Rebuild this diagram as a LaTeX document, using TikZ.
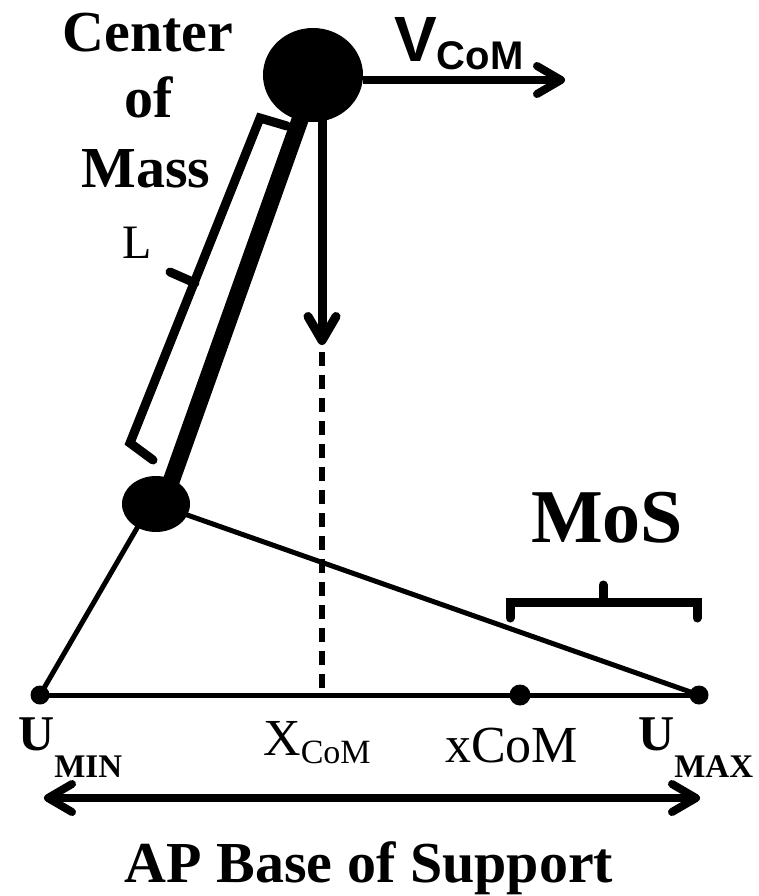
\documentclass[tikz,border=0pt]{standalone}
\usepackage{fontspec}
\setmainfont{Liberation Serif}
\newfontfamily\arialfont{Liberation Sans}
\usetikzlibrary{arrows.meta,shapes.geometric}
\begin{document}
\begin{tikzpicture}[x=1pt,y=-1pt,
  blob/.style={ellipse,fill=black,inner sep=0pt},
  dotnode/.style={circle,fill=black,inner sep=0pt,minimum size=#1},
  thin line/.style={line width=5pt,line cap=round},
  bracketline/.style={line width=9pt,line cap=round,line join=miter},
  barb/.style={line width=8pt,-{Straight Barb[round,length=24pt,width=28pt]}},
  dbarb/.style={line width=8pt,{Straight Barb[round,length=24pt,width=28pt]}-{Straight Barb[round,length=24pt,width=28pt]}},
  txt/.style={inner sep=0pt,anchor=base west},
  ctxt/.style={inner sep=0pt,anchor=base}]
\useasboundingbox (0,0) rectangle (759,896);

% named points
\coordinate (vtip) at (565,80);
\coordinate (dtop) at (322,352);
\coordinate (atip) at (322,345);
\coordinate (abase) at (322,110);
\coordinate (dbot) at (322,695);
\coordinate (bosl) at (44,798);
\coordinate (bosr) at (700,798);
\coordinate (lb1) at (287,126);
\coordinate (lb2) at (260,118);
\coordinate (lb3) at (130,443);
\coordinate (lb4) at (153,460);
\coordinate (lm1) at (195,283);
\coordinate (lm2) at (170,272);
\coordinate (mb1) at (510,618);
\coordinate (mb2) at (510,602);
\coordinate (mb3) at (697,602);
\coordinate (mb4) at (697,618);
\coordinate (mt1) at (603,602);
\coordinate (mt2) at (603,585);

% dots on the base line
\node[dotnode=19pt] (umin) at (40,695) {};
\node[dotnode=21pt] (xcom) at (520,695) {};
\node[dotnode=19pt] (umax) at (699,695) {};

% lines
\draw[thin line] (umin.center) -- (umax.center);
\draw[thin line] (umin.center) -- (151,504);
\draw[thin line] (156,504) -- (umax.center);
\draw[line width=6pt,dash pattern=on 14pt off 9pt] (dtop) -- (dbot);
\draw[line width=17pt] (316,75) -- (163,504);

% bodies
\node[blob,minimum width=100pt,minimum height=94pt] (topc) at (313,75) {};
\node[blob,minimum width=68pt,minimum height=56pt] (knee) at (156,504) {};

% arrows
\draw[barb] ([yshift=-5pt]topc.east) -- (vtip);
\draw[barb,line width=9pt] (abase) -- (atip);
\draw[dbarb] (bosl) -- (bosr);

% brackets
\draw[bracketline] (lb1) -- (lb2) -- (lb3) -- (lb4);
\draw[bracketline] (lm1) -- (lm2);
\draw[bracketline] (mb1) -- (mb2) -- (mb3) -- (mb4);
\draw[bracketline] (mt1) -- (mt2);

% texts
\node[ctxt,font=\bfseries\fontsize{58}{58}\selectfont] (c1) at (148,52) {Center};
\node[ctxt,font=\bfseries\fontsize{58}{58}\selectfont] (c2) at (149,118) {of};
\node[ctxt,font=\bfseries\fontsize{58}{58}\selectfont] (c3) at (146,188) {Mass};
\node[txt,font=\fontsize{48}{48}\selectfont] (ltext) at (122,258) {L};
\node[txt,font=\arialfont\bfseries\fontsize{64}{64}\selectfont] (vtext) at (394,62) {V{\fontsize{40}{40}\selectfont\raisebox{-8pt}{CoM}}};
\node[ctxt,font=\bfseries\fontsize{76}{76}\selectfont] (mos) at (607,542) {MoS};
\node[txt,font=\bfseries\fontsize{50}{50}\selectfont] (umintext) at (18,750) {U{\fontsize{33}{33}\selectfont\raisebox{-27pt}{MIN}}};
\node[txt,font=\fontsize{52}{52}\selectfont] (xcomtext) at (263,755) {X{\fontsize{34}{34}\selectfont\raisebox{-8pt}{CoM}}};
\node[txt,font=\fontsize{52}{52}\selectfont] (xcomtext2) at (445,762) {xCoM};
\node[txt,font=\bfseries\fontsize{50}{50}\selectfont] (umaxtext) at (638,750) {U{\fontsize{33}{33}\selectfont\raisebox{-27pt}{MAX}}};
\node[ctxt,font=\bfseries\fontsize{58}{58}\selectfont] (bos) at (369,882) {AP Base of Support};
\end{tikzpicture}
\end{document}
